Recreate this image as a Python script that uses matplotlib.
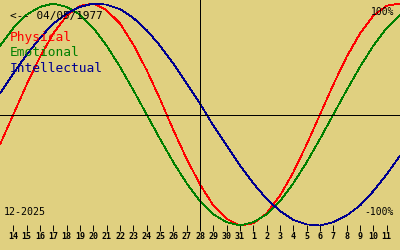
import matplotlib
matplotlib.use('Agg')
import matplotlib.pyplot as plt

# days relative to today (28-12-2025), birth 04/05/1977
days = list(range(-15, 16))
physical = [-0.27, 0.00, 0.27, 0.52, 0.73, 0.89, 0.98, 1.00, 0.94, 0.82, 0.63,
            0.40, 0.14, -0.14, -0.40, -0.63, -0.82, -0.94, -1.00, -0.98, -0.89,
            -0.73, -0.52, -0.27, 0.00, 0.27, 0.52, 0.73, 0.89, 0.98, 1.00]
emotional = [0.62, 0.78, 0.90, 0.97, 1.00, 0.97, 0.90, 0.78, 0.62, 0.43, 0.22,
             0.00, -0.22, -0.43, -0.62, -0.78, -0.90, -0.97, -1.00, -0.97, -0.90,
             -0.78, -0.62, -0.43, -0.22, 0.00, 0.22, 0.43, 0.62, 0.78, 0.90]
intellectual = [0.19, 0.37, 0.54, 0.69, 0.82, 0.91, 0.97, 1.00, 0.99, 0.95, 0.87,
                0.76, 0.62, 0.46, 0.28, 0.10, -0.10, -0.28, -0.46, -0.62, -0.76,
                -0.87, -0.95, -0.99, -1.00, -0.97, -0.91, -0.82, -0.69, -0.54, -0.37]

tick_days = list(range(-14, 15))
tick_labels = ['14', '15', '16', '17', '18', '19', '20', '21', '22', '23', '24',
               '25', '26', '27', '28', '29', '30', '31', '1', '2', '3', '4', '5',
               '6', '7', '8', '9', '10', '11']

bg = '#e0d080'
mono = 'DejaVu Sans Mono'

fig = plt.figure(figsize=(4, 2.5), dpi=100, facecolor=bg)
ax = fig.add_axes([0, 22.5 / 250, 1, 227.5 / 250])
ax.set_facecolor(bg)
ax.set_xlim(-15, 15)
ax.set_ylim(-1.018, 1.032)

ax.plot(days, physical, color='#ff0000', lw=0.55, antialiased=False)
ax.plot(days, emotional, color='#008000', lw=0.55, antialiased=False)
ax.plot(days, intellectual, color='#000090', lw=0.55, antialiased=False)

ax.axhline(0, color='black', lw=0.68, antialiased=False)
ax.axvline(0, ymin=-0.006, color='black', lw=0.68, clip_on=False, antialiased=False)

for s in ax.spines.values():
    s.set_visible(False)
ax.set_yticks([])
ax.set_xticks(tick_days)
ax.set_xticklabels(tick_labels, fontfamily=mono, fontweight='bold', fontsize=6)
ax.tick_params(axis='x', direction='inout', length=5, width=0.68, pad=0.8)

def px_text(x, y, s, **kw):
    fig.text(x / 400, 1 - y / 250, s, va='center', fontfamily=mono, **kw)

px_text(10, 16, '<-- 04/05/1977', fontsize=7.9, color='black')
px_text(10, 38, 'Physical', fontsize=9.3, color='#ff0000')
px_text(10, 53, 'Emotional', fontsize=9.3, color='#008000')
px_text(10, 68, 'Intellectual', fontsize=9.3, color='#000090')
px_text(394, 12, '100%', fontsize=7, color='black', ha='right')
px_text(394, 212, '-100%', fontsize=7, color='black', ha='right')
px_text(4, 212, '12-2025', fontsize=7.2, color='black')

fig.savefig('out.png', dpi=100, facecolor=bg)
